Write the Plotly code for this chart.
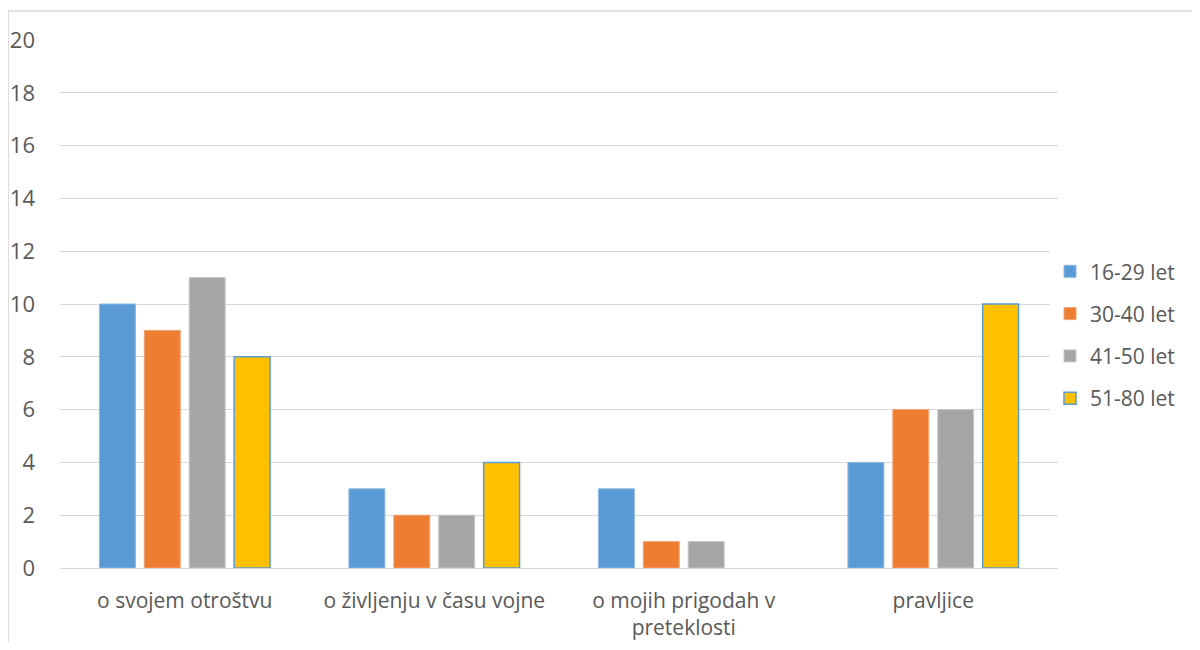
import plotly.graph_objects as go

categories = ["o svojem otroštvu", "o življenju v času vojne", "o mojih prigodah v<br>preteklosti", "pravljice"]
series_names = ["16-29 let", "30-40 let", "41-50 let", "51-80 let"]
s1 = [10, 3, 3, 4]
s2 = [9, 2, 1, 6]
s3 = [11, 2, 1, 6]
s4 = [8, 4, None, 10]
colors = ["#5B9BD5", "#ED7D31", "#A5A5A5", "#FFC000"]
edge_colors = ["#8DB8E2", "#F2A373", "#C6C6C6", "#5B9BD5"]
edge_widths = [1, 1, 1, 1.5]
y_ticks = [0, 2, 4, 6, 8, 10, 12, 14, 16, 18, 20]

FONT = "Open Sans"
TXT = "#595959"

fig = go.Figure()
for i, (name, vals) in enumerate(zip(series_names, [s1, s2, s3, s4])):
    fig.add_trace(go.Bar(
        x=categories, y=vals, name=name,
        marker=dict(color=colors[i], line=dict(color=edge_colors[i], width=edge_widths[i])),
        legendgroup=f"g{i}",
    ))

fig.update_layout(
    width=1184, height=634,
    margin=dict(l=52, r=132, t=32, b=74),
    paper_bgcolor="white", plot_bgcolor="white",
    barmode="group", bargap=0.28, bargroupgap=0.2,
    font=dict(family=FONT, size=21, color=TXT),
    showlegend=True,
    legend=dict(x=0.992, y=0.441, xanchor="left", yanchor="middle",
                traceorder="grouped", tracegroupgap=12,
                itemwidth=30, font=dict(size=21, color=TXT)),
    shapes=[dict(type="rect", xref="paper", yref="paper",
                 x0=-0.052, x1=1.3, y0=-0.3, y1=1.0549,
                 line=dict(color="#D9D9D9", width=1.5), layer="below")],
)
fig.update_xaxes(showgrid=False, showline=False, ticks="", ticklabelstandoff=18,
                 automargin=False, tickfont=dict(size=21, color=TXT))
fig.update_yaxes(range=[0, 20], tickvals=y_ticks, showgrid=True, gridcolor="#D9D9D9",
                 gridwidth=1, zeroline=True, zerolinecolor="#D9D9D9", zerolinewidth=1,
                 showline=False, ticks="", ticklabelstandoff=24, automargin=False,
                 tickfont=dict(size=22, color=TXT))

fig.write_html("out.html")
